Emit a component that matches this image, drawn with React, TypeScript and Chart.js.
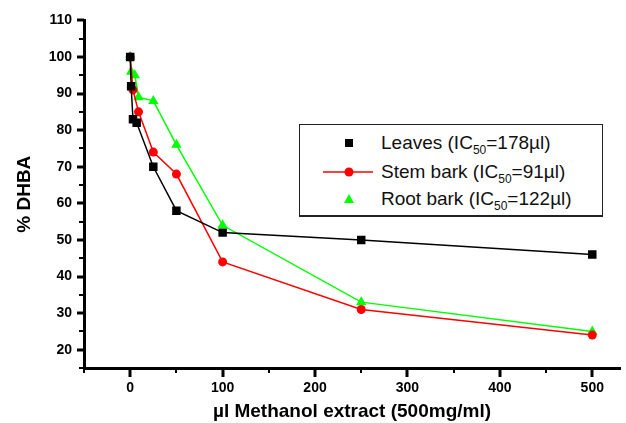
import React, { useEffect, useRef } from 'react';
import { Chart, registerables } from 'chart.js';

Chart.register(...registerables);

// Leaves (black squares)
const leavesX = [0, 1, 3, 7, 25, 50, 100, 250, 500];
const leavesY = [100, 92, 83, 82, 70, 58, 52, 50, 46];
// Stem bark (red circles)
const stemX = [0, 3, 9, 25, 50, 100, 250, 500];
const stemY = [100, 91, 85, 74, 68, 44, 31, 24];
// Root bark (green triangles)
const rootX = [0, 1, 5, 9, 25, 50, 100, 250, 500];
const rootY = [100, 96, 95, 89, 88, 76, 54, 33, 25];

const xMajorTicks = [0, 100, 200, 300, 400, 500];
const xMin = -50;
const xMax = 530;
const yMin = 15;
const yMax = 110;

const xTitle = 'µl Methanol extract (500mg/ml)';
const yTitle = '% DHBA';

const legendRows = [
  { name: 'Leaves (IC', sub: '50', rest: '=178µl)', kind: 'square' },
  { name: 'Stem bark (IC', sub: '50', rest: '=91µl)', kind: 'circle' },
  { name: 'Root bark (IC', sub: '50', rest: '=122µl)', kind: 'triangle' },
];

const toPts = (xs: number[], ys: number[]) => xs.map((x, i) => ({ x, y: ys[i] }));

const tickPlugin = {
  id: 'customTicks',
  afterDraw(chart: any) {
    const ctx = chart.ctx;
    const xs = chart.scales.x;
    const ys = chart.scales.y;
    const area = chart.chartArea;
    ctx.save();
    ctx.strokeStyle = '#000';
    for (let v = xMin; v <= xMax; v += 50) {
      const px = Math.round(xs.getPixelForValue(v));
      const major = v % 100 === 0;
      ctx.lineWidth = major ? 3 : 2;
      ctx.beginPath();
      ctx.moveTo(px, area.bottom);
      ctx.lineTo(px, area.bottom + (major ? 9 : 5));
      ctx.stroke();
    }
    for (let v = yMin; v <= yMax; v += 5) {
      const py = Math.round(ys.getPixelForValue(v));
      const major = v % 10 === 0;
      ctx.lineWidth = major ? 3 : 2;
      ctx.beginPath();
      ctx.moveTo(area.left, py);
      ctx.lineTo(area.left - (major ? 7 : 5), py);
      ctx.stroke();
    }
    ctx.restore();
  },
};

function Marker({ kind }: { kind: string }) {
  const cx = 49;
  const cy = 14;
  if (kind === 'square') {
    return (
      <svg width={81} height={28} style={{ position: 'absolute', left: 0, top: 0 }}>
        <rect x={cx - 4} y={cy - 4} width={8} height={8} fill="#000" />
      </svg>
    );
  }
  if (kind === 'circle') {
    return (
      <svg width={81} height={28} style={{ position: 'absolute', left: 0, top: 0 }}>
        <line x1={23} y1={cy} x2={73} y2={cy} stroke="#ff0000" strokeWidth={1.5} />
        <circle cx={cx} cy={cy} r={4.5} fill="#ff0000" />
      </svg>
    );
  }
  return (
    <svg width={81} height={28} style={{ position: 'absolute', left: 0, top: 0 }}>
      <polygon points={`${cx - 5},${cy + 4} ${cx + 5},${cy + 4} ${cx},${cy - 5}`} fill="#00ff00" />
    </svg>
  );
}

export default function App() {
  const canvasRef = useRef<HTMLCanvasElement | null>(null);

  useEffect(() => {
    if (!canvasRef.current) return;
    const chart = new Chart(canvasRef.current, {
      type: 'line',
      data: {
        datasets: [
          {
            label: 'Leaves',
            data: toPts(leavesX, leavesY),
            borderColor: '#000000',
            backgroundColor: '#000000',
            borderWidth: 1.5,
            pointStyle: 'rect',
            pointRadius: 6,
            pointBorderWidth: 0,
            tension: 0,
          },
          {
            label: 'Stem bark',
            data: toPts(stemX, stemY),
            borderColor: '#ff0000',
            backgroundColor: '#ff0000',
            borderWidth: 1.5,
            pointStyle: 'circle',
            pointRadius: 4.5,
            pointBorderWidth: 0,
            tension: 0,
          },
          {
            label: 'Root bark',
            data: toPts(rootX, rootY),
            borderColor: '#00ff00',
            backgroundColor: '#00ff00',
            borderWidth: 1.5,
            pointStyle: 'triangle',
            pointRadius: 6,
            pointBorderWidth: 0,
            tension: 0,
          },
        ],
      },
      options: {
        animation: false,
        responsive: false,
        maintainAspectRatio: false,
        devicePixelRatio: 1,
        layout: { padding: { top: 20, right: 0, bottom: 0, left: 0 } },
        plugins: {
          legend: { display: false },
          tooltip: { enabled: false },
        },
        scales: {
          x: {
            type: 'linear',
            min: xMin,
            max: xMax,
            afterFit: (s: any) => {
              s.height = 55;
              s.paddingLeft = 0;
              s.paddingRight = 0;
            },
            ticks: {
              stepSize: 50,
              includeBounds: false,
              autoSkip: false,
              maxRotation: 0,
              padding: 12,
              color: '#000',
              font: { family: '"Liberation Sans", Arial, sans-serif', size: 14, weight: 'bold' },
              callback: (v: any) => (xMajorTicks.includes(Number(v)) ? String(v) : ''),
            },
            grid: { display: true, drawOnChartArea: false, drawTicks: false },
            border: { display: true, color: '#000', width: 3 },
            title: {
              display: true,
              text: xTitle,
              color: '#000',
              padding: { top: 0, bottom: 0 },
              font: { family: '"Liberation Sans", Arial, sans-serif', size: 19, weight: 'bold' },
            },
          },
          y: {
            type: 'linear',
            min: yMin,
            max: yMax,
            afterFit: (s: any) => {
              s.width = 84;
            },
            ticks: {
              stepSize: 5,
              autoSkip: false,
              padding: 12,
              color: '#000',
              font: { family: '"Liberation Sans", Arial, sans-serif', size: 14, weight: 'bold' },
              callback: (v: any) => (Number(v) % 10 === 0 ? String(v) : ''),
            },
            grid: { display: true, drawOnChartArea: false, drawTicks: false },
            border: { display: true, color: '#000', width: 3 },
            title: {
              display: true,
              text: yTitle,
              color: '#000',
              padding: { top: 13, bottom: 0 },
              font: { family: '"Liberation Sans", Arial, sans-serif', size: 19, weight: 'bold' },
            },
          },
        },
      } as any,
      plugins: [tickPlugin],
    });
    return () => chart.destroy();
  }, []);

  const rowCenters = [18, 47, 74];

  return (
    <div style={{ position: 'absolute', left: 0, top: 0, width: 626, height: 423, background: '#fff', overflow: 'hidden' }}>
      <canvas ref={canvasRef} width={626} height={423} style={{ display: 'block' }} />
      <div
        style={{
          position: 'absolute',
          left: 299,
          top: 124,
          width: 304,
          height: 93,
          boxSizing: 'border-box',
          border: '1px solid #222',
          borderBottomWidth: 2,
          background: '#fff',
        }}
      >
        {legendRows.map((r, i) => (
          <div key={i} style={{ position: 'absolute', left: 0, top: rowCenters[i] - 14, width: 302, height: 28 }}>
            <Marker kind={r.kind} />
            <div
              style={{
                position: 'absolute',
                left: 81,
                top: 0,
                height: 28,
                lineHeight: '28px',
                whiteSpace: 'nowrap',
                fontFamily: '"Liberation Sans", Arial, sans-serif',
                fontSize: 19,
                color: '#111',
              }}
            >
              {r.name}
              <span style={{ fontSize: 12, verticalAlign: -5, lineHeight: 0 }}>{r.sub}</span>
              {r.rest}
            </div>
          </div>
        ))}
      </div>
    </div>
  );
}
